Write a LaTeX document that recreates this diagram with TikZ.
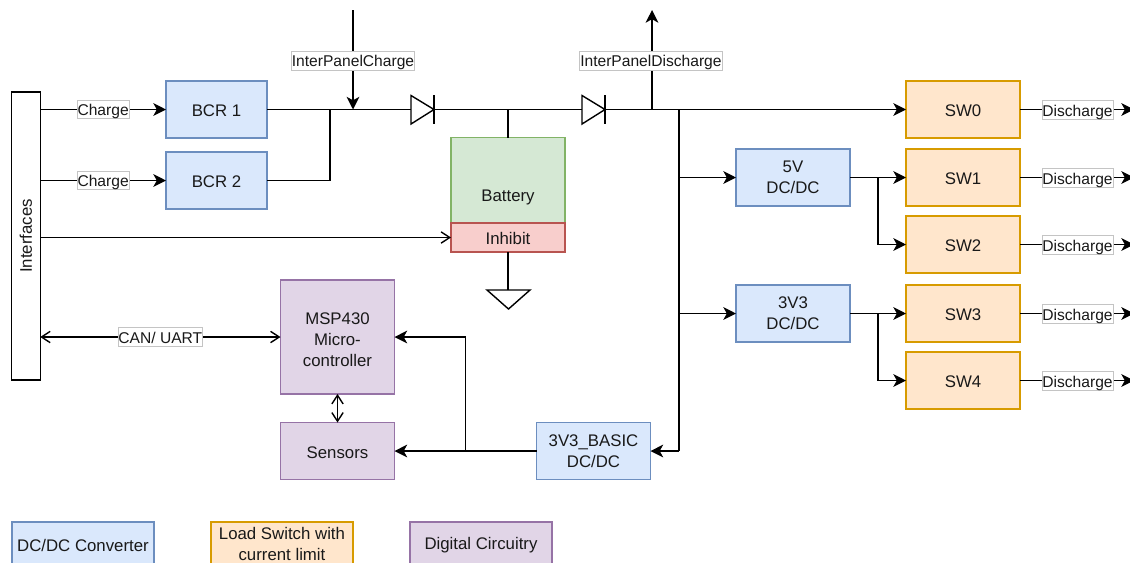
\documentclass[tikz,border=0pt]{standalone}
\usepackage{fontspec}
\setmainfont{Liberation Sans}
\usetikzlibrary{arrows.meta,shapes.geometric}
\definecolor{bluef}{HTML}{DAE8FC}\definecolor{blued}{HTML}{6C8EBF}
\definecolor{orgf}{HTML}{FFE6CC}\definecolor{orgd}{HTML}{D79B00}
\definecolor{purf}{HTML}{E1D5E7}\definecolor{purd}{HTML}{9673A6}
\definecolor{grnf}{HTML}{D5E8D4}\definecolor{grnd}{HTML}{82B366}
\definecolor{redf}{HTML}{F8CECC}\definecolor{redd}{HTML}{B85450}
\definecolor{lblgray}{HTML}{C4C4C4}
\tikzset{
  x=0.75pt,y=-0.75pt,
  every node/.style={text=black!90},
  box/.style={draw,line width=0.95pt,align=center,inner sep=0pt,outer sep=0pt,minimum width=114*0.75pt,minimum height=57*0.75pt,font=\fontsize{12.6pt}{15.6pt}\selectfont,execute at begin node={\rule{0pt}{11pt}}},
  bluebox/.style={box,fill=bluef,draw=blued},
  orgbox/.style={box,fill=orgf,draw=orgd},
  purbox/.style={box,fill=purf,draw=purd},
  wire/.style={line width=1.05pt,black},
  farrow/.style={wire,-{Stealth[length=9.5pt,width=9.5pt,inset=2.6pt]}},
  oarrow/.style={wire,-{Straight Barb[length=6.5pt,width=8.5pt]}},
  darrow/.style={wire,{Straight Barb[length=6.5pt,width=8.5pt]}-{Straight Barb[length=6.5pt,width=8.5pt]}},
  wlabel/.style={fill=white,draw=lblgray,line width=0.6pt,inner sep=0pt,inner xsep=0.3pt,minimum height=14pt,text height=10.5pt,text depth=1.5pt,font=\fontsize{11.7pt}{15pt}\selectfont},
  dtri/.style={draw=black,line width=1.05pt,fill=white},
}
\begin{document}
\begin{tikzpicture}
\useasboundingbox (0,0) rectangle (1130,562);
\clip (0,0) rectangle (1130,562);
% blocks
\node[box,fill=white,draw=black,minimum width=28.5*0.75pt,minimum height=288*0.75pt] (ifc) at (26,236) {\rotatebox{90}{Interfaces}};
\node[bluebox,minimum width=101*0.75pt] (bcr1) at (216.5,109.5) {BCR 1};
\node[bluebox,minimum width=101*0.75pt] (bcr2) at (216.5,180.5) {BCR 2};
\node[box,fill=grnf,draw=grnd,minimum height=85.5*0.75pt] (bat) at (508,180.5) {\raisebox{-10.1pt}[0pt][0pt]{Battery}};
\node[box,fill=redf,draw=redd,minimum height=29*0.75pt] (inh) at (508,237.5) {Inhibit};
\node[orgbox] (sw0) at (963,109.5) {SW0};
\node[orgbox] (sw1) at (963,177.5) {SW1};
\node[orgbox] (sw2) at (963,244.5) {SW2};
\node[orgbox] (sw3) at (963,313.5) {SW3};
\node[orgbox] (sw4) at (963,380.5) {SW4};
\node[bluebox] (v5) at (793,177.5) {5V\\DC/DC};
\node[bluebox] (v33) at (793,313.5) {3V3\\DC/DC};
\node[bluebox] (basic) at (593.5,451) {3V3\_BASIC\\DC/DC};
\node[purbox,minimum height=114*0.75pt] (msp) at (337.5,337) {\rule{0pt}{12.5pt}MSP430\\Micro-\\controller};
\node[purbox] (sens) at (337.5,451) {Sensors};
\node[bluebox,minimum width=142*0.75pt,minimum height=44*0.75pt] (lg1) at (83,544) {DC/DC Converter};
\node[orgbox,minimum width=142*0.75pt,minimum height=44*0.75pt] (lg2) at (282,544) {Load Switch with\\current limit};
\node[purbox,minimum width=142*0.75pt,minimum height=44*0.75pt] (lg3) at (481,544) {Digital Circuitry};
% junctions and free ends
\coordinate (jA) at (330,109.5);
\coordinate (jIn) at (353,109.5);
\coordinate (topIn) at (353,10);
\coordinate (d1a) at (411,109.5);
\coordinate (d1k) at (434,109.5);
\coordinate (jBat) at (508,109.5);
\coordinate (d2a) at (582,109.5);
\coordinate (d2k) at (605,109.5);
\coordinate (jOut) at (652,109.5);
\coordinate (topOut) at (652,10);
\coordinate (jV) at (679,109.5);
\coordinate (jV5) at (679,177.5);
\coordinate (jV3) at (679,313.5);
\coordinate (jBot) at (679,451);
\coordinate (j5) at (878,177.5);
\coordinate (j3) at (878,313.5);
\coordinate (jB) at (465.5,451);
\coordinate (gnd) at (508,290);
% diodes and ground
\draw[wire] (bcr1.east) -- (jA) -- (jIn) -- (d1a);
\draw[wire] (d1k) -- (jBat) -- (d2a);
\draw[wire] (d2k) -- (jOut) -- (jV);
\draw[wire] (bcr2.east) -- (330,180.5) -- (jA);
\draw[wire] (jBat) -- (bat.north);
\draw[dtri] (d1a |- 0,95.5) -- (d1a |- 0,124) -- (d1k) -- cycle;
\draw[wire] (434,95) -- (434,124);
\draw[dtri] (d2a |- 0,95.5) -- (d2a |- 0,124) -- (d2k) -- cycle;
\draw[wire] (605,95) -- (605,124);
\draw[wire] (inh.south) -- (gnd);
\draw[dtri] (487,290) -- (530,290) -- (508.5,309) -- cycle;
% connectors
\draw[farrow] (topIn) -- node[wlabel,pos=0.51] (l1) {InterPanelCharge} (jIn);
\draw[farrow] (jOut) -- node[wlabel,pos=0.49,xshift=-0.8pt] (l2) {InterPanelDischarge} (topOut);
\draw[farrow] (ifc.east |- bcr1) -- node[wlabel] (l3) {Charge} (bcr1.west);
\draw[farrow] (ifc.east |- bcr2) -- node[wlabel] (l4) {Charge} (bcr2.west);
\draw[oarrow] (ifc.east |- inh) -- (inh.west);
\draw[darrow] (ifc.east |- msp) -- node[wlabel] (l5) {CAN/ UART} (msp.west);
\draw[darrow] (msp.south) -- (sens.north);
\draw[farrow] (jV) -- (sw0.west);
\draw[wire] (jV) -- (jBot);
\draw[farrow] (jV5) -- (v5.west);
\draw[farrow] (jV3) -- (v33.west);
\draw[farrow] (jBot) -- (basic.east);
\draw[farrow] (basic.west) -- (sens.east);
\draw[farrow] (jB) |- (msp.east);
\draw[farrow] (v5.east) -- (sw1.west);
\draw[farrow] (j5) |- (sw2.west);
\draw[farrow] (v33.east) -- (sw3.west);
\draw[farrow] (j3) |- (sw4.west);
\foreach \s in {0,...,4}{
  \coordinate (e\s) at (sw\s.east -| 1134,0);
  \draw[farrow] (sw\s.east) -- (e\s);
  \path (sw\s.east) ++(57.5,0.5) node[wlabel] (dl\s) {Discharge};
}
\end{tikzpicture}
\end{document}
